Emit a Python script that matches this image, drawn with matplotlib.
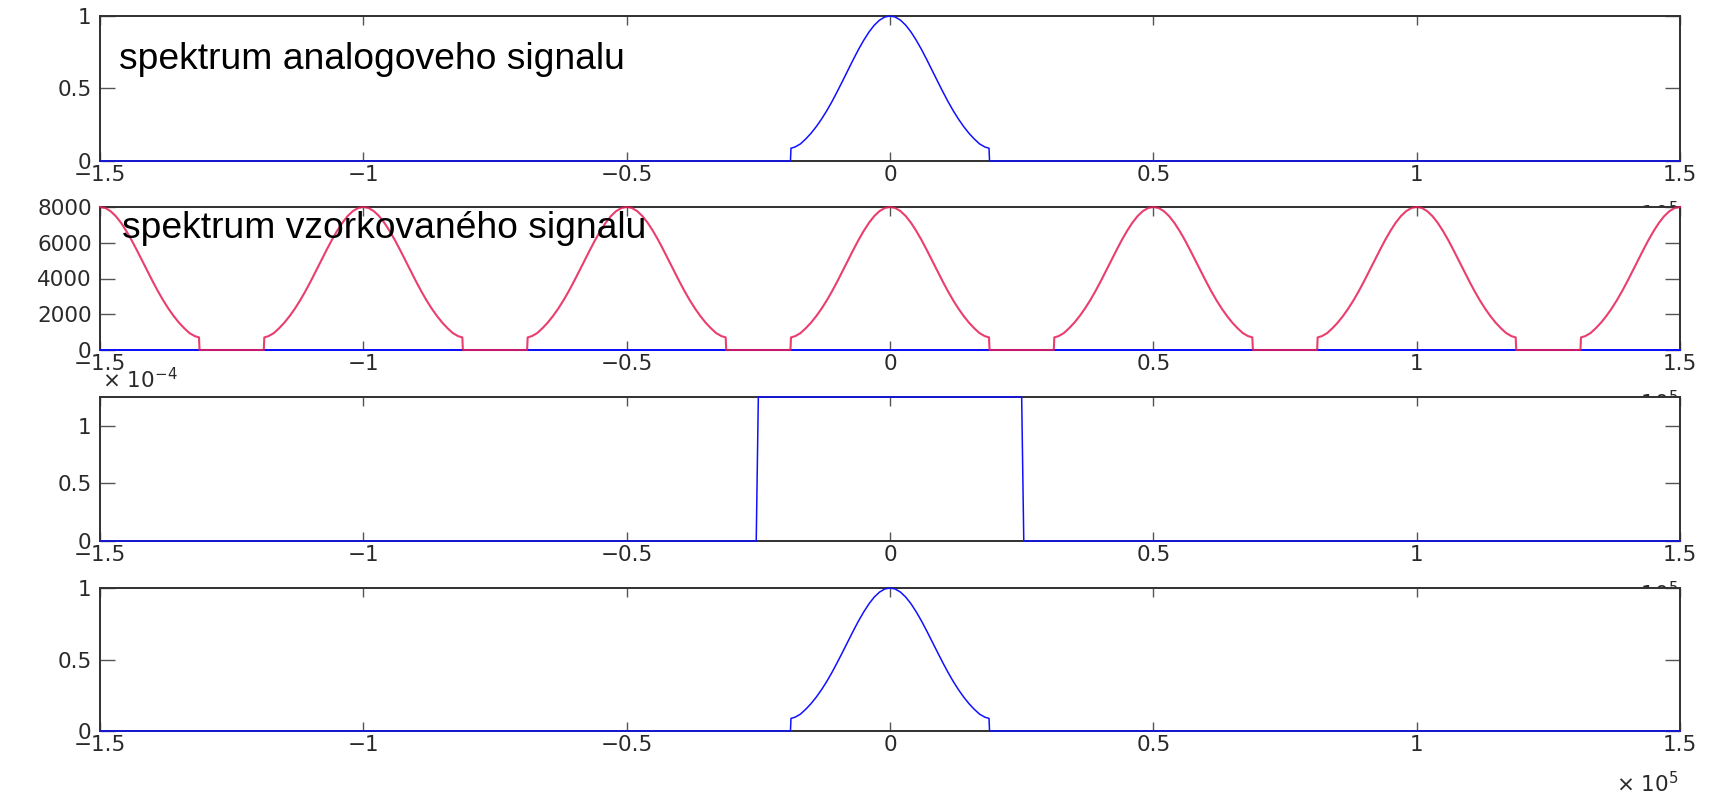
"""
Sampling demo: analog spectrum, sampled spectrum, reconstruction filter, output.
"""

import matplotlib

matplotlib.use("Agg")
import matplotlib.pyplot as plt  # noqa: E402
import numpy as np

# half of the band-limited pulse (one side, mirrored below), frequency in kHz
pulse_offset_khz = [0, 1, 2, 3, 4, 5, 6, 7, 8, 9, 10, 11, 12, 13, 14, 15, 16, 17, 18, 18.8, 18.9]
pulse_level = [1.000, 0.993, 0.971, 0.936, 0.889, 0.832, 0.768, 0.698, 0.625, 0.552,
               0.480, 0.411, 0.347, 0.289, 0.237, 0.191, 0.152, 0.118, 0.097, 0.088, 0.0]

# spectral replicas after sampling (kHz) and their peak height
replica_center_khz = [-150, -100, -50, 0, 50, 100, 150]
replica_peak = 8000

# ideal reconstruction low-pass (gain in units of 1e-4)
filter_freq_khz = [-150, -25.4, -25.0, 25.0, 25.4, 150]
filter_gain = [0, 0, 1.25, 1.25, 0, 0]

x_range_khz = [-150, 150]
x_ticks = [-1.5, -1, -0.5, 0, 0.5, 1, 1.5]
x_tick_labels = ["\u22121.5", "\u22121", "\u22120.5", "0", "0.5", "1", "1.5"]
unit_ticks = [0, 0.5, 1]
unit_tick_labels = ["0", "0.5", "1"]
sampled_ticks = [0, 2000, 4000, 6000, 8000]
sampled_tick_labels = ["0", "2000", "4000", "6000", "8000"]

BLUE = "#1010ff"
RED = "#e61c55"
AXC = "#303030"
LABC = "#2a2a2a"
TICK_FS = 15.5

# build the full symmetric pulse (frequency in units of 1e5 Hz = 100 kHz)
off = np.array(pulse_offset_khz, dtype=float)
lvl = np.array(pulse_level, dtype=float)
pulse_x = np.concatenate([-off[::-1], off[1:]]) / 100.0
pulse_y = np.concatenate([lvl[::-1], lvl[1:]])

x_lo, x_hi = x_range_khz[0] / 100.0, x_range_khz[1] / 100.0
analog_x = np.concatenate([[x_lo], pulse_x, [x_hi]])
analog_y = np.concatenate([[0.0], pulse_y, [0.0]])

rep_x = np.concatenate([c / 100.0 + pulse_x for c in replica_center_khz])
rep_y = np.concatenate([replica_peak * pulse_y for _ in replica_center_khz])
keep = (rep_x >= x_lo) & (rep_x <= x_hi)
rep_x, rep_y = rep_x[keep], rep_y[keep]

filt_x = np.array(filter_freq_khz) / 100.0

W, H = 1710, 793
fig = plt.figure(figsize=(W / 100, H / 100), dpi=100)

# panel boxes in pixels: (top, bottom)
boxes = [(16, 161), (207, 350), (397, 541), (588, 731)]
axes = []
for top, bottom in boxes:
    ax = fig.add_axes([100 / W, 1 - bottom / H, 1580 / W, (bottom - top) / H])
    axes.append(ax)

for ax in axes:
    ax.set_xlim(x_lo, x_hi)
    ax.set_xticks(x_ticks)
    ax.set_xticklabels(x_tick_labels)
    for s in ax.spines.values():
        s.set_color(AXC)
        s.set_linewidth(1.4)
    ax.tick_params(direction="in", top=True, right=True, colors="#555555",
                   labelcolor=LABC, labelsize=TICK_FS, width=1.0)
    ax.tick_params(axis="x", length=6.5, pad=3)
    ax.tick_params(axis="y", length=11, pad=6)
    # exponent label; on the upper panels it is mostly hidden by the next panel
    ax.annotate("\u00d7 10$^{5}$", xy=(1, 0), xycoords="axes fraction",
                xytext=(-1, -44), textcoords="offset points",
                ha="right", va="baseline", fontsize=TICK_FS, color=LABC)

ax1, ax2, ax3, ax4 = axes

ax1.plot(analog_x, analog_y, color=BLUE, lw=1.1, clip_on=False, zorder=3)
ax1.set_ylim(0, 1)
ax1.set_yticks(unit_ticks)
ax1.set_yticklabels(unit_tick_labels)
ax1.text(0.012, 0.634, "spektrum analogoveho signalu", transform=ax1.transAxes,
         fontsize=26.8, family="Liberation Sans", va="baseline", zorder=5)

ax2.plot([x_lo, x_hi], [0, 0], color=BLUE, lw=1.4, clip_on=False, zorder=3)
ax2.plot(rep_x, rep_y, color=RED, lw=1.5, alpha=0.85, clip_on=False, zorder=4)
ax2.set_ylim(0, 8000)
ax2.set_yticks(sampled_ticks)
ax2.set_yticklabels(sampled_tick_labels)
ax2.text(0.014, 0.783, "spektrum vzorkovaného signalu", transform=ax2.transAxes,
         fontsize=26.8, family="Liberation Sans", va="baseline", zorder=5)

ax3.plot(filt_x, filter_gain, color=BLUE, lw=1.1, clip_on=False, zorder=3)
ax3.set_ylim(0, 1.25)
ax3.set_yticks(unit_ticks)
ax3.set_yticklabels(unit_tick_labels)
ax3.annotate("\u00d7 10$^{-4}$", xy=(0, 1), xycoords="axes fraction",
             xytext=(1.5, 6.5), textcoords="offset points",
             ha="left", va="baseline", fontsize=TICK_FS, color=LABC)

ax4.plot(analog_x, analog_y, color=BLUE, lw=1.1, clip_on=False, zorder=3)
ax4.set_ylim(0, 1)
ax4.set_yticks(unit_ticks)
ax4.set_yticklabels(unit_tick_labels)

fig.savefig("out.png", dpi=100)
plt.close(fig)
